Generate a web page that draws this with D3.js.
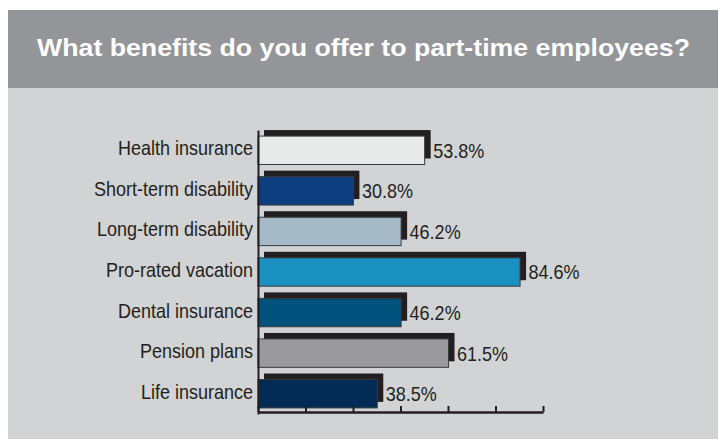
<html>
<meta charset="utf-8" />
<head>
<title>Part-time benefits</title>
<script src="https://cdn.jsdelivr.net/npm/d3@7"></script>
<style>
	body { margin: 0; background: #ffffff; }
	svg { display: block; }
</style>
<script>
// 데이터
let categories = ['Health insurance', 'Short-term disability', 'Long-term disability', 'Pro-rated vacation', 'Dental insurance', 'Pension plans', 'Life insurance'];
let values = [53.8, 30.8, 46.2, 84.6, 46.2, 61.5, 38.5];
let valueLabels = ['53.8%', '30.8%', '46.2%', '84.6%', '46.2%', '61.5%', '38.5%'];
let barColors = ['#e8e9e9', '#0d3e80', '#a6b9c6', '#1a90c0', '#00527d', '#9a9a9c', '#022b55'];
let axisTicks = [0, 15.33, 30.67, 46, 61.33, 76.67, 92];

window.onload = function() {
	let svg = d3.select('svg');
	let font = '"Liberation Sans", Arial, sans-serif';
	let narrow = 0.9;	// 좁은 글꼴 흉내

	// 배경
	svg.append('rect').attr('x', 8).attr('y', 10).attr('width', 710).attr('height', 78).attr('fill', '#939598');
	svg.append('rect').attr('x', 8).attr('y', 88).attr('width', 710).attr('height', 351).attr('fill', '#d1d3d4');

	svg.append('text')
	.attr('x', 363.5).attr('y', 56)
	.attr('text-anchor', 'middle')
	.attr('font-family', font)
	.attr('font-weight', 'bold')
	.attr('font-size', 24.5)
	.attr('textLength', 653)
	.attr('lengthAdjust', 'spacingAndGlyphs')
	.attr('fill', '#ffffff')
	.text('What benefits do you offer to part-time employees?');

	let xScale = d3.scaleLinear().domain([0, 92]).range([258, 543]);
	let yScale = d3.scaleBand().domain(categories).range([130, 414]).paddingInner(0.3).paddingOuter(0.15);

	let data = categories.map((c, i) => { return { name: c, value: values[i], label: valueLabels[i], color: barColors[i] }; });

	// 그림자
	svg.selectAll('rect.shadow')
	.data(data).enter()
	.append('rect')
	.attr('class', 'shadow')
	.attr('x', xScale(0) + 6)
	.attr('y', (d) => { return yScale(d.name) - 6; })
	.attr('width', (d) => { return xScale(d.value) - xScale(0); })
	.attr('height', yScale.bandwidth())
	.attr('fill', '#231f20');

	// 막대
	svg.selectAll('rect.bar')
	.data(data).enter()
	.append('rect')
	.attr('class', 'bar')
	.attr('x', xScale(0))
	.attr('y', (d) => { return yScale(d.name); })
	.attr('width', (d) => { return xScale(d.value) - xScale(0); })
	.attr('height', yScale.bandwidth())
	.attr('fill', (d) => { return d.color; })
	.attr('stroke', '#3a3a3c')
	.attr('stroke-width', 1);

	// 값 라벨
	svg.selectAll('text.value')
	.data(data).enter()
	.append('text')
	.attr('class', 'value')
	.attr('transform', 'scale(' + narrow + ',1)')
	.attr('x', (d) => { return (xScale(d.value) + 8.5) / narrow; })
	.attr('y', (d) => { return yScale(d.name) + yScale.bandwidth() / 2 + 7.5; })
	.attr('font-family', font)
	.attr('font-size', 20)
	.attr('fill', '#231f20')
	.text((d) => { return d.label; });

	// 축
	let yAxis = d3.axisLeft(yScale).tickSize(0).tickPadding(5);
	let yG = svg.append('g').attr('transform', 'translate(258,0)').call(yAxis);
	yG.select('.domain').attr('stroke', '#231f20').attr('stroke-width', 2);
	yG.selectAll('text')
	.attr('font-family', font).attr('font-size', 20).attr('fill', '#231f20')
	.attr('transform', 'scale(' + narrow + ',1)')
	.attr('x', -5 / narrow)
	.attr('dy', null)
	.attr('y', 5);

	let xAxis = d3.axisTop(xScale).tickValues(axisTicks).tickSize(6).tickSizeOuter(0).tickFormat('');
	let xG = svg.append('g').attr('transform', 'translate(0,412)').call(xAxis);
	xG.select('.domain').attr('stroke', '#231f20').attr('stroke-width', 2.5);
	xG.selectAll('.tick line').attr('stroke', '#231f20').attr('stroke-width', 2);
}
</script>
</head>
<body>
<svg width="723" height="439"></svg>
</body>
</html>
